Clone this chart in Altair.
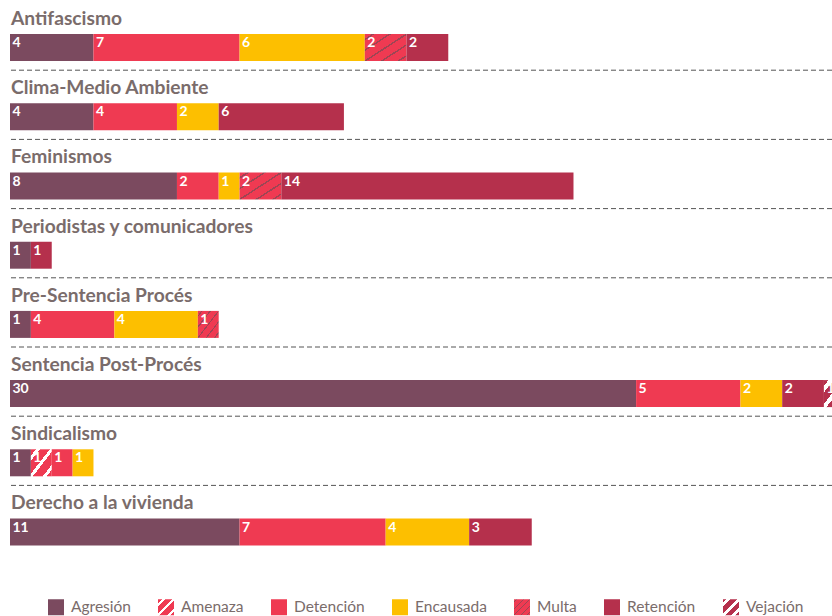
import json
import altair as alt
import pandas as pd

categories = [
    "Antifascismo",
    "Clima-Medio Ambiente",
    "Feminismos",
    "Periodistas y comunicadores",
    "Pre-Sentencia Procés",
    "Sentencia Post-Procés",
    "Sindicalismo",
    "Derecho a la vivienda",
]
types = ["Agresión", "Amenaza", "Detención", "Encausada", "Multa", "Retención", "Vejación"]

agresion = [4, 4, 8, 1, 1, 30, 1, 11]
amenaza = [0, 0, 0, 0, 0, 0, 1, 0]
detencion = [7, 4, 2, 0, 4, 5, 1, 7]
encausada = [6, 2, 1, 0, 4, 2, 1, 4]
multa = [2, 0, 2, 0, 1, 0, 0, 0]
retencion = [2, 6, 14, 1, 0, 2, 0, 3]
vejacion = [0, 0, 0, 0, 0, 1, 0, 0]

series = [agresion, amenaza, detencion, encausada, multa, retencion, vejacion]

rows = []
for ci, cat in enumerate(categories):
    start = 0
    for ti, t in enumerate(types):
        v = series[ti][ci]
        if v > 0:
            rows.append({"category": cat, "type": t, "value": v,
                         "start": start, "end": start + v})
            start += v
df = pd.DataFrame(rows)
cat_df = pd.DataFrame({"category": categories})
sep_df = pd.DataFrame({"category": categories[:-1]})


def stripes(bg, fg, n, frac):
    stops = [{"offset": 0, "color": bg}]
    p = 1.0 / n
    for i in range(n):
        a = i * p + p * (1 - frac) / 2
        b = a + p * frac
        stops += [
            {"offset": round(a, 4), "color": bg},
            {"offset": round(a, 4), "color": fg},
            {"offset": round(b, 4), "color": fg},
            {"offset": round(b, 4), "color": bg},
        ]
    stops.append({"offset": 1, "color": bg})
    g = {"gradient": "linear", "x1": 0, "y1": 0, "x2": 1, "y2": 1, "stops": stops}
    return {"expr": json.dumps(g)}


RED = "#ef3a52"
DARK = "#b5304c"
colors = [
    "#7b4a5f",
    stripes(RED, "#ffffff", 3, 0.28),
    RED,
    "#fdbf00",
    stripes(RED, "#9c4654", 5, 0.16),
    DARK,
    stripes(DARK, "#ffffff", 3, 0.36),
]

W = 822
H = 553.6
STEP = H / len(categories)
PX_PER_UNIT = 20.87
XMAX = W / PX_PER_UNIT

TXT = "#7a6c6b"

y_enc = alt.Y("category:N", scale=alt.Scale(domain=categories, paddingInner=0, paddingOuter=0),
              axis=None, sort=categories)
x_scale = alt.Scale(domain=[0, XMAX], nice=False, zero=False)

titles = alt.Chart(cat_df).mark_text(
    align="left", baseline="alphabetic", font="Lato", fontWeight="bold",
    fontSize=19.2, color=TXT, yOffset=-10.6
).encode(x=alt.value(1), y=y_enc, text="category:N")

bars = alt.Chart(df).mark_bar(size=27, yOffset=12, clip=True).encode(
    x=alt.X("start:Q", scale=x_scale, axis=None),
    x2="end:Q",
    y=y_enc,
    fill=alt.Fill(
        "type:N",
        scale=alt.Scale(domain=types, range=colors),
        legend=alt.Legend(
            orient="none", legendX=38, legendY=598, direction="horizontal",
            title=None, symbolType="square", symbolSize=256, symbolStrokeWidth=0,
            labelFont="Lato", labelFontSize=15.5, labelColor=TXT, labelOffset=7,
            columnPadding=27, padding=0, symbolOpacity=1,
        ),
    ),
)

labels = alt.Chart(df).mark_text(
    align="left", baseline="alphabetic", dx=2.5, yOffset=11.5, font="Lato",
    fontWeight="bold", fontSize=14, color="white", clip=True
).encode(
    x=alt.X("start:Q", scale=x_scale, axis=None),
    y=y_enc,
    text="value:Q",
)

seps = alt.Chart(sep_df).mark_rule(
    strokeDash=[5, 3], color="#555555", strokeWidth=1, yOffset=STEP / 2
).encode(x=alt.value(1), x2=alt.value(W), y=y_enc)

chart = alt.layer(titles, bars, labels, seps).properties(
    width=W, height=H,
    autosize=alt.AutoSizeParams(type="none"),
    padding={"left": 10, "top": 1, "right": 0, "bottom": 616 - 1 - H},
    background="white",
).configure_view(stroke=None)

chart.save("out.html", embed_options={"renderer": "svg", "actions": False})
